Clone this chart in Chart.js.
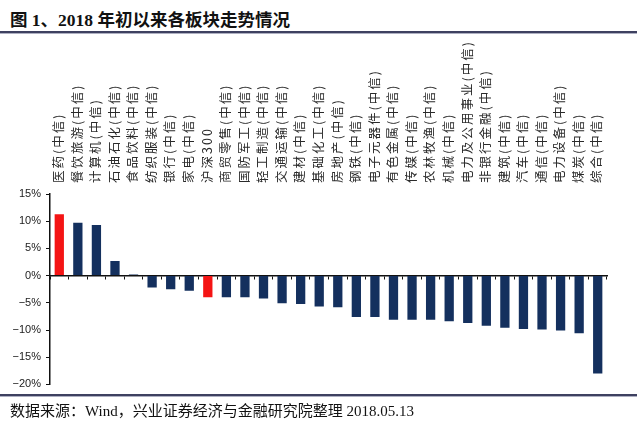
<!DOCTYPE html>
<html>
<head>
<meta charset="utf-8">
<script src="https://cdn.jsdelivr.net/npm/chart.js@4"></script>
<style>
body{margin:0;width:640px;height:426px;background:#fff;position:relative;overflow:hidden;font-family:"Liberation Serif","Noto Sans CJK SC",serif}
#title{position:absolute;left:10px;top:6px;font-size:17.5px;font-weight:bold;color:#111;white-space:nowrap}
.rule{position:absolute;left:0;width:637px;height:2px;background:#3e4160;border-bottom:1px solid #aeb0c2}
#src{position:absolute;left:10px;top:399px;font-size:15px;color:#111;white-space:nowrap}
#wrap{position:absolute;left:0;top:36px;width:640px;height:360px}
</style>
</head>
<body>
<div id="title">图 1、2018 年初以来各板块走势情况</div>
<div class="rule" style="top:31px"></div>
<div id="wrap"><canvas id="myChart"></canvas></div>
<div class="rule" style="top:394px"></div>
<div id="src">数据来源：Wind，兴业证券经济与金融研究院整理 2018.05.13</div>
<script>
const labels = ['医药(中信)','餐饮旅游(中信)','计算机(中信)','石油石化(中信)','食品饮料(中信)','纺织服装(中信)',
  '银行(中信)','家电(中信)','沪深300','商贸零售(中信)','国防军工(中信)','轻工制造(中信)','交通运输(中信)',
  '建材(中信)','基础化工(中信)','房地产(中信)','钢铁(中信)','电子元器件(中信)','有色金属(中信)','传媒(中信)',
  '农林牧渔(中信)','机械(中信)','电力及公用事业(中信)','非银行金融(中信)','建筑(中信)','汽车(中信)',
  '通信(中信)','电力设备(中信)','煤炭(中信)','综合(中信)']
const values = [11.3, 9.7, 9.3, 2.7, 0.2, -2.2, -2.5, -2.8, -4.0, -4.0, -4.0, -4.2, -5.1, -5.2, -5.7,
  -5.8, -7.6, -7.6, -8.1, -8.1, -8.1, -8.4, -8.7, -9.2, -9.6, -9.8, -9.9, -10.1, -10.6, -18.0]
const highlight = ['医药(中信)','沪深300']
const yTicks = {min: -20, max: 15, step: 5}

const navy = '#14305e'
const red = '#f41414'

// spread the characters of the vertical category labels a bit, like the original
const labelSpacing = {
  id: 'labelSpacing',
  beforeDraw(chart) {
    const s = chart.scales.x
    if (s._spaced) return
    const orig = s.drawLabels.bind(s)
    s.drawLabels = function (area) {
      chart.ctx.letterSpacing = '2px'
      orig(area)
      chart.ctx.letterSpacing = '0px'
    }
    s._spaced = true
  }
}

var ctx = document.getElementById('myChart').getContext('2d')
var chart = new Chart(ctx, {
  type: 'bar',
  data: {
    labels: labels,
    datasets: [{
      data: values,
      xAxisID: 'x',
      yAxisID: 'y',
      backgroundColor: c => highlight.includes(labels[c.dataIndex]) ? red : navy,
      barPercentage: 0.5,
      categoryPercentage: 1
    }]
  },
  options: {
    responsive: true,
    maintainAspectRatio: false,
    animation: false,
    layout: {padding: {right: 33, bottom: 8.5}},
    plugins: {legend: {display: false}, tooltip: {enabled: false}},
    scales: {
      x: {
        type: 'category',
        position: 'top',
        offset: true,
        grid: {display: false, drawTicks: false},
        border: {display: false},
        ticks: {
          autoSkip: false, minRotation: 90, maxRotation: 90, padding: 11,
          labelOffset: 14,
          font: {family: 'Noto Sans CJK SC', size: 12.5}, color: '#2a2a2a'
        },
        afterFit: s => { s.height = 158 }
      },
      x2: {
        type: 'category',
        axis: 'x',
        position: {y: 0},
        offset: true,
        ticks: {display: false},
        grid: {offset: true, drawOnChartArea: false, tickLength: 3, color: '#111'},
        border: {color: '#111', width: 1.5}
      },
      y: {
        min: yTicks.min,
        max: yTicks.max,
        ticks: {
          stepSize: yTicks.step,
          callback: v => (v < 0 ? '\u2212' + (-v) : v) + '%',
          font: {family: 'Liberation Sans', size: 11},
          color: '#222',
          padding: 5
        },
        grid: {drawOnChartArea: false, tickLength: 4, color: '#111'},
        border: {color: '#111', width: 1.5},
        afterFit: s => { s.width = 50 }
      }
    }
  },
  plugins: [labelSpacing]
})
</script>
</body>
</html>
